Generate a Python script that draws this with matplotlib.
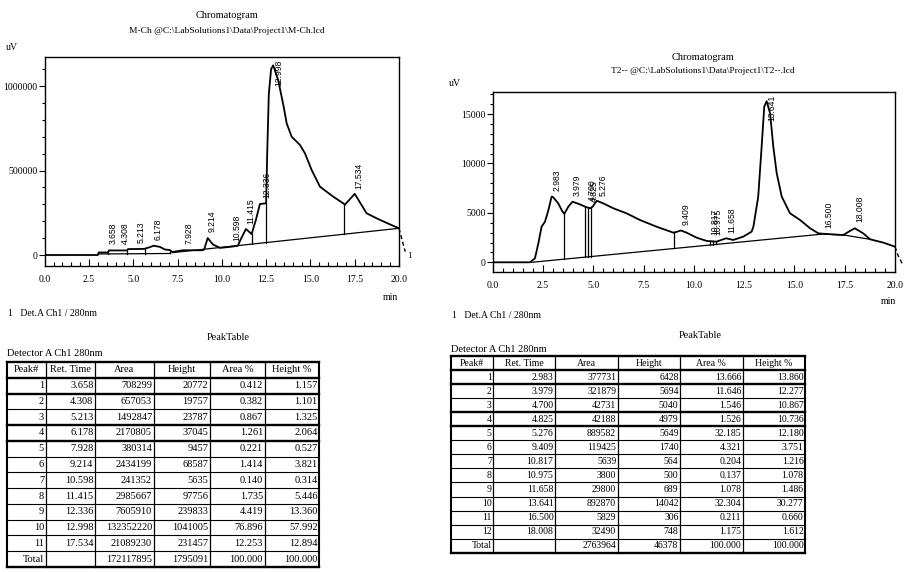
import numpy as np
import matplotlib
matplotlib.use('Agg')
import matplotlib.pyplot as plt
from matplotlib.ticker import MultipleLocator, FormatStrFormatter

# ---- left chromatogram (M-Ch) ----
m_time = [0.0, 3.0, 3.05, 3.58, 3.62, 4.65, 4.7, 5.6, 5.9, 6.15, 6.5, 6.8, 7.05, 7.2,
          7.8, 8.9, 9.0, 9.2, 9.5, 9.9, 10.6, 10.9, 11.1, 11.36, 11.68, 11.92, 12.15,
          12.45, 12.5, 12.56, 12.65, 12.78, 12.9, 13.18, 13.47, 13.66, 13.94, 14.41,
          14.69, 15.07, 15.54, 16.29, 16.85, 16.95, 17.5, 18.17, 18.74, 19.3, 20.0]
m_signal = [0, 0, 15000, 15000, 27000, 27000, 35000, 36000, 45000, 55000, 48000, 32000,
            30000, 18000, 28000, 28000, 32000, 100000, 62000, 42000, 50000, 55000, 100000,
            154000, 124000, 207000, 302000, 305000, 310000, 600000, 950000, 1100000,
            1122000, 1035000, 888000, 779000, 700000, 651000, 602000, 503000, 404000,
            345000, 306000, 298000, 362000, 247000, 217000, 190000, 158000]
m_base = [([3.0, 7.1], [6000, 9000]), ([7.2, 20.0], [14000, 158000])]
m_drops = [3.58, 4.67, 5.66, 7.07, 11.68, 12.47, 16.92]

m_peak = list(range(1, 12))
m_ret = [3.658, 4.308, 5.213, 6.178, 7.928, 9.214, 10.598, 11.415, 12.336, 12.998, 17.534]
m_area = [708299, 657053, 1492847, 2170805, 380314, 2434199, 241352, 2985667, 7605910,
          132352220, 21089230]
m_height = [20772, 19757, 23787, 37045, 9457, 68587, 5635, 97756, 239833, 1041005, 231457]
m_area_pct = [0.412, 0.382, 0.867, 1.261, 0.221, 1.414, 0.140, 1.735, 4.419, 76.896, 12.253]
m_height_pct = [1.157, 1.101, 1.325, 2.064, 0.527, 3.821, 0.314, 5.446, 13.360, 57.992, 12.894]
m_total = [172117895, 1795091, 100.000, 100.000]

# ---- right chromatogram (T2--) ----
t_time = [0.0, 1.85, 2.1, 2.27, 2.43, 2.6, 2.77, 2.93, 3.0, 3.26, 3.45, 3.56, 3.76, 3.97,
          4.34, 4.59, 4.84, 4.97, 5.17, 5.5, 6.0, 6.66, 7.32, 8.15, 8.98, 9.1, 9.35, 9.64,
          10.14, 10.64, 11.13, 11.6, 11.96, 12.46, 12.87, 12.96, 13.2, 13.37, 13.5, 13.62,
          13.79, 13.95, 14.12, 14.37, 14.78, 15.28, 15.78, 16.19, 16.6, 17.43, 17.7, 18.0,
          18.42, 18.76, 19.42, 20.0]
t_signal = [0, 0, 400, 1920, 3600, 4110, 5290, 6650, 6600, 5960, 5200, 4900, 5630, 6130,
            5860, 5630, 5460, 5630, 6230, 5960, 5460, 4950, 4280, 3600, 3000, 3050, 3220,
            3000, 2490, 2160, 2090, 2430, 2260, 2600, 3100, 3600, 6640, 11700, 15750, 16300,
            15080, 11700, 9000, 6640, 4960, 4280, 3440, 2930, 2860, 2760, 3100, 3440, 2930,
            2330, 1990, 1580]
t_base = [([1.94, 16.43, 17.45, 18.75], [0, 2860, 2760, 2330])]
t_drops = [3.56, 4.59, 4.76, 4.87, 9.03, 10.8, 10.95, 11.1]

t_peak = list(range(1, 13))
t_ret = [2.983, 3.979, 4.700, 4.825, 5.276, 9.409, 10.817, 10.975, 11.658, 13.641, 16.500, 18.008]
t_area = [377731, 321879, 42731, 42188, 889582, 119425, 5639, 3800, 29800, 892870, 5829, 32490]
t_height = [6428, 5694, 5040, 4979, 5649, 1740, 564, 500, 689, 14042, 306, 748]
t_area_pct = [13.666, 11.646, 1.546, 1.526, 32.185, 4.321, 0.204, 0.137, 1.078, 32.304, 0.211, 1.175]
t_height_pct = [13.860, 12.277, 10.867, 10.736, 12.180, 3.751, 1.216, 1.078, 1.486, 30.277, 0.660, 1.612]
t_total = [2763964, 46378, 100.000, 100.000]

headers = ['Peak#', 'Ret. Time', 'Area', 'Height', 'Area %', 'Height %']

plt.rcParams['font.family'] = ['Liberation Serif', 'DejaVu Serif']
W, H = 909, 572
fig = plt.figure(figsize=(W / 100, H / 100), dpi=100)

# overlay in pixel coordinates for titles and tables
ov = fig.add_axes([0, 0, 1, 1], zorder=0)
ov.set_xlim(0, W)
ov.set_ylim(H, 0)
ov.axis('off')


def base_at(segs, x):
    for bt, bv in segs:
        if bt[0] <= x <= bt[-1]:
            return np.interp(x, bt, bv)
    return 0


def draw_chrom(box, t, v, segs, drops, rts, ylim, ymajor, yminor, tail):
    x0, y0, x1, y1 = box
    ax = fig.add_axes([x0 / W, 1 - y1 / H, (x1 - x0) / W, (y1 - y0) / H], zorder=2)
    ax.patch.set_alpha(0)
    ax.plot(t, v, color='k', lw=1.3)
    ax.plot([20.0] + tail[0], [v[-1]] + tail[1], color='k', lw=1.0,
            ls=(0, (3, 2)), clip_on=False)
    for bt, bv in segs:
        ax.plot(bt, bv, color='k', lw=0.9)
    for d in drops:
        ax.plot([d, d], [base_at(segs, d), np.interp(d, t, v)], color='k', lw=0.9)
    ax.set_xlim(0, 20)
    ax.set_ylim(*ylim)
    per_px = (ylim[1] - ylim[0]) / (y1 - y0)
    for rt in rts:
        yb = np.interp(rt, t, v) + 6 * per_px
        yb = min(yb, ylim[1] - 29 * per_px)
        ax.text(rt + 0.23, yb, '%.3f' % rt, rotation=90, ha='center', va='bottom',
                fontsize=6.2, family=['Liberation Sans', 'DejaVu Sans'])
    ax.xaxis.set_major_locator(MultipleLocator(2.5))
    ax.xaxis.set_minor_locator(MultipleLocator(0.5))
    ax.xaxis.set_major_formatter(FormatStrFormatter('%.1f'))
    ax.set_yticks(ymajor)
    ax.yaxis.set_minor_locator(MultipleLocator(yminor))
    ax.yaxis.set_major_formatter(FormatStrFormatter('%d'))
    ax.tick_params(axis='x', which='both', direction='in', top=False, labelsize=7,
                   pad=7, width=0.8)
    ax.tick_params(axis='x', which='major', length=5)
    ax.tick_params(axis='x', which='minor', length=3)
    ax.tick_params(axis='y', which='both', direction='out', right=False, labelsize=7,
                   pad=1, width=0.8)
    ax.tick_params(axis='y', which='major', length=4)
    ax.tick_params(axis='y', which='minor', length=2.5)
    for s in ax.spines.values():
        s.set_linewidth(1.0)
    return ax


draw_chrom((44.7, 57, 399, 265.7), m_time, m_signal, m_base, m_drops, m_ret,
           (-63300, 1171600), [0, 500000, 1000000], 100000,
           ([20.12, 20.35], [110000, 20000]))
draw_chrom((492.7, 92.3, 895, 271.7), t_time, t_signal, t_base, t_drops, t_ret,
           (-951, 17200), [0, 5000, 10000, 15000], 1000,
           ([20.15, 20.4], [700, -300]))


def draw_table(xe, y_top, row_h, cols, total, fs):
    n = len(cols[0]) + 2
    ys = y_top + row_h * np.arange(n + 1)
    for i, y in enumerate(ys):
        lw = 1.7 if i in (0, 1, 2, 4, 5, n) else 0.8
        ov.plot([xe[0], xe[-1]], [y, y], color='k', lw=lw)
    for j, x in enumerate(xe):
        lw = 1.5 if j in (0, len(xe) - 1) else 0.9
        ov.plot([x, x], [ys[0], ys[-1]], color='k', lw=lw)
    for j, h in enumerate(headers):
        ov.text((xe[j] + xe[j + 1]) / 2, ys[0] + row_h / 2, h, ha='center',
                va='center', fontsize=fs)
    fmts = ['%d', '%.3f', '%d', '%d', '%.3f', '%.3f']
    for i in range(len(cols[0])):
        yc = ys[i + 1] + row_h / 2
        for j, col in enumerate(cols):
            ov.text(xe[j + 1] - 1.5, yc, fmts[j] % col[i], ha='right', va='center',
                    fontsize=fs)
    yc = ys[-2] + row_h / 2
    ov.text(xe[1] - 1.5, yc, 'Total', ha='right', va='center', fontsize=fs)
    for j, val in enumerate(total):
        ov.text(xe[j + 3] - 1.5, yc, fmts[j + 2] % val, ha='right', va='center',
                fontsize=fs)


draw_table([7, 45.5, 95, 153.5, 210, 264.5, 319], 362, 15.77,
           [m_peak, m_ret, m_area, m_height, m_area_pct, m_height_pct], m_total, 7.5)
draw_table([451, 493.3, 555, 617.7, 680, 742.7, 805], 356, 14.05,
           [t_peak, t_ret, t_area, t_height, t_area_pct, t_height_pct], t_total, 7)

# texts around the charts
ov.text(227, 15, 'Chromatogram', ha='center', va='center', fontsize=7.5)
ov.text(227, 31, r'M-Ch @C:\LabSolutions1\Data\Project1\M-Ch.lcd', ha='center',
        va='center', fontsize=6.8)
ov.text(12, 47, 'uV', ha='center', va='center', fontsize=7)
ov.text(390, 297, 'min', ha='center', va='center', fontsize=7)
ov.text(409, 256, '1', ha='center', va='center', fontsize=6.5)
ov.text(8, 313, '1   Det.A Ch1 / 280nm', ha='left', va='center', fontsize=7)
ov.text(228, 338, 'PeakTable', ha='center', va='center', fontsize=7.5)
ov.text(7, 353, 'Detector A Ch1 280nm', ha='left', va='center', fontsize=7.5)

ov.text(703, 57, 'Chromatogram', ha='center', va='center', fontsize=7.5)
ov.text(703, 71, r'T2-- @C:\LabSolutions1\Data\Project1\T2--.lcd', ha='center',
        va='center', fontsize=6.8)
ov.text(455, 83, 'uV', ha='center', va='center', fontsize=7)
ov.text(888, 302, 'min', ha='center', va='center', fontsize=7)
ov.text(452, 315, '1   Det.A Ch1 / 280nm', ha='left', va='center', fontsize=7)
ov.text(700, 336, 'PeakTable', ha='center', va='center', fontsize=7.5)
ov.text(451, 349, 'Detector A Ch1 280nm', ha='left', va='center', fontsize=7.5)

fig.savefig('out.png', dpi=100)
